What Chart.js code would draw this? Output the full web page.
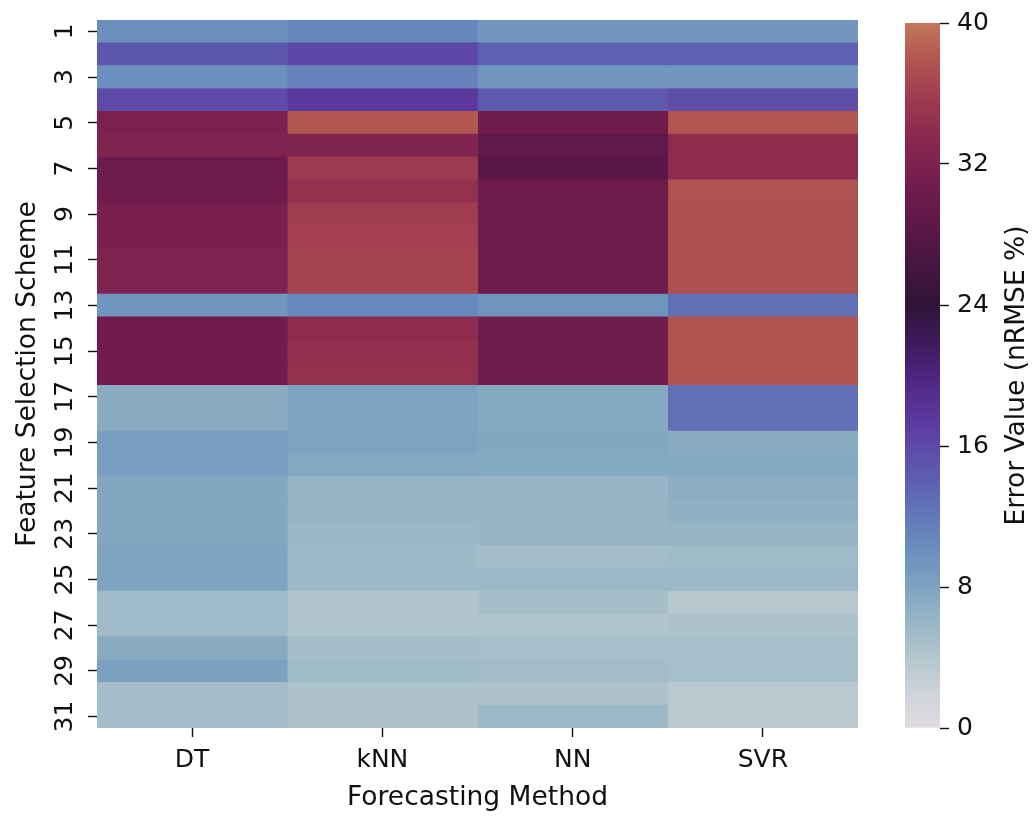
<!DOCTYPE html>
<html>
<head>
<meta charset="utf-8">
<script src="https://cdn.jsdelivr.net/npm/chart.js@4.4.1/dist/chart.umd.min.js"></script>
<style>
  html, body { margin: 0; padding: 0; background: #fff; }
  #wrap { position: relative; width: 1032px; height: 817px; }
  #heat { position: absolute; left: 0; top: 0; }
  #cbar { position: absolute; left: 870px; top: 0; }
</style>
</head>
<body>
<div id="wrap">
  <canvas id="heat" width="870" height="817"></canvas>
  <canvas id="cbar" width="162" height="817"></canvas>
</div>
<script>
// feature selection schemes (rows) and forecasting methods (columns)
const schemes = Array.from({ length: 31 }, (_, i) => String(i + 1));
const methods = ['DT', 'kNN', 'NN', 'SVR'];

// nRMSE % per scheme, one list per method
const dtErr = [10.0, 14.8, 10.1, 15.9, 31.8, 32.4, 30.3, 30.5, 31.5, 31.5, 32.1, 32.1, 9.4, 30.7, 30.7, 30.7,
  7.2, 7.2, 8.5, 8.5, 7.6, 7.6, 7.6, 7.9, 7.9, 5.5, 5.5, 7.2, 8.3, 5.0, 5.0];
const knnErr = [10.9, 16.1, 11.2, 17.6, 38.1, 32.5, 35.6, 34.6, 35.8, 36.1, 36.4, 36.4, 10.7, 34.0, 34.3, 34.5,
  8.0, 8.0, 8.0, 7.5, 6.3, 6.3, 6.0, 5.6, 5.6, 4.3, 4.3, 5.1, 5.4, 4.5, 4.5];
const nnErr = [9.4, 13.9, 9.4, 14.6, 30.5, 29.0, 28.4, 30.5, 30.5, 30.5, 30.5, 30.5, 9.6, 30.6, 30.6, 30.6,
  7.4, 7.4, 7.6, 7.4, 6.1, 6.1, 6.1, 5.3, 5.8, 5.0, 4.3, 4.9, 5.3, 4.5, 5.7];
const svrErr = [9.4, 13.9, 9.4, 15.6, 37.9, 34.0, 34.0, 37.7, 37.5, 37.5, 37.5, 37.5, 12.8, 37.8, 37.8, 37.8,
  12.8, 12.8, 7.2, 7.4, 6.9, 6.6, 6.2, 5.4, 5.7, 3.8, 4.5, 4.9, 4.9, 3.6, 3.6];

const errRange = [0, 40];
const cbarTicks = [0, 8, 16, 24, 32, 40];

// colour ramp sampled from the colour bar
const ramp = [
  [0, [226, 217, 226]], [2, [205, 211, 216]], [4, [180, 198, 205]], [6, [152, 182, 198]],
  [8, [126, 163, 192]], [10, [107, 144, 190]], [12, [98, 121, 184]], [14, [94, 96, 178]],
  [16, [94, 73, 168]], [18, [90, 53, 153]], [20, [78, 36, 128]], [22, [62, 26, 90]],
  [24, [47, 20, 54]], [26, [68, 21, 64]], [28, [87, 23, 69]], [30, [106, 26, 76]],
  [32, [125, 33, 80]], [34, [142, 44, 79]], [36, [162, 62, 80]], [38, [178, 86, 80]],
  [40, [194, 120, 90]]
];
function cmap(v) {
  if (v <= ramp[0][0]) return 'rgb(' + ramp[0][1].join(',') + ')';
  for (let i = 1; i < ramp.length; i++) {
    if (v <= ramp[i][0]) {
      const [a, ca] = ramp[i - 1], [b, cb] = ramp[i];
      const t = (v - a) / (b - a);
      const c = ca.map((x, k) => Math.round(x + (cb[k] - x) * t));
      return 'rgb(' + c.join(',') + ')';
    }
  }
  return 'rgb(' + ramp[ramp.length - 1][1].join(',') + ')';
}

const font = 'DejaVu Sans';
const ink = '#111';
const tickSize = 25;
const titleSize = 26.5;

const columns = [dtErr, knnErr, nnErr, svrErr];
const datasets = columns.map((vals, j) => ({
  label: methods[j],
  data: vals.map(() => [j, j + 1]),
  backgroundColor: vals.map(cmap),
  borderWidth: 0,
  grouped: false,
  barPercentage: 1,
  categoryPercentage: 1
}));

new Chart(document.getElementById('heat'), {
  type: 'bar',
  data: { labels: schemes, datasets: datasets },
  options: {
    indexAxis: 'y',
    responsive: false,
    animation: false,
    layout: { padding: { top: 20, right: 12, left: 0, bottom: 0 } },
    plugins: { legend: { display: false }, tooltip: { enabled: false } },
    scales: {
      x: {
        type: 'linear',
        min: 0,
        max: 4,
        afterBuildTicks: (scale) => { scale.ticks = methods.map((m, i) => ({ value: i + 0.5 })); },
        afterFit: (scale) => {
          scale.height = 89;
          scale.paddingLeft = 0;
          scale.paddingRight = 0;
        },
        ticks: {
          callback: (v, i) => methods[i],
          autoSkip: false,
          maxRotation: 0,
          padding: 8,
          color: ink,
          font: { family: font, size: tickSize }
        },
        grid: { drawOnChartArea: false, tickLength: 9, tickColor: ink, tickWidth: 1.4 },
        border: { display: false },
        title: {
          display: true,
          text: 'Forecasting Method',
          color: ink,
          font: { family: font, size: titleSize },
          padding: { top: 0, bottom: 3 }
        }
      },
      y: {
        type: 'category',
        afterFit: (scale) => {
          scale.width = 97;
          scale.paddingTop = 0;
          scale.paddingBottom = 0;
        },
        ticks: {
          callback: (v, i) => (i % 2 === 0 ? schemes[i] : ''),
          autoSkip: false,
          minRotation: 90,
          maxRotation: 90,
          crossAlign: 'center',
          padding: 7,
          color: ink,
          font: { family: font, size: tickSize }
        },
        grid: {
          offset: false,
          drawOnChartArea: false,
          tickLength: 9,
          tickWidth: 1.4,
          tickColor: (ctx) => (ctx.index % 2 === 0 ? ink : 'rgba(0,0,0,0)')
        },
        border: { display: false },
        title: {
          display: true,
          text: 'Feature Selection Scheme',
          color: ink,
          font: { family: font, size: titleSize },
          padding: { top: 12, bottom: 0 }
        }
      }
    }
  }
});

// colour bar: one floating bar over the full error range, filled with the ramp
const cbarTitle = {
  id: 'cbarTitle',
  afterDraw(chart) {
    const ctx = chart.ctx;
    const area = chart.chartArea;
    ctx.save();
    ctx.translate(147, (area.top + area.bottom) / 2);
    ctx.rotate(-Math.PI / 2);
    ctx.fillStyle = ink;
    ctx.font = titleSize + 'px "' + font + '"';
    ctx.textAlign = 'center';
    ctx.textBaseline = 'middle';
    ctx.fillText('Error Value (nRMSE %)', 0, 0);
    ctx.restore();
  }
};

new Chart(document.getElementById('cbar'), {
  type: 'bar',
  data: {
    labels: [''],
    datasets: [{
      data: [errRange],
      borderWidth: 0,
      barPercentage: 1,
      categoryPercentage: 1,
      backgroundColor: (ctx) => {
        const area = ctx.chart.chartArea;
        if (!area) return cmap(20);
        const g = ctx.chart.ctx.createLinearGradient(0, area.bottom, 0, area.top);
        ramp.forEach(([v, c]) => g.addColorStop((v - errRange[0]) / (errRange[1] - errRange[0]), 'rgb(' + c.join(',') + ')'));
        return g;
      }
    }]
  },
  options: {
    responsive: false,
    animation: false,
    layout: { padding: { top: 20, left: 35, right: 0, bottom: 89 } },
    plugins: { legend: { display: false }, tooltip: { enabled: false } },
    scales: {
      x: { display: false },
      y: {
        position: 'right',
        min: errRange[0],
        max: errRange[1],
        afterBuildTicks: (scale) => { scale.ticks = cbarTicks.map((v) => ({ value: v })); },
        afterFit: (scale) => { scale.width = 92; },
        ticks: { padding: 8, color: ink, font: { family: font, size: tickSize } },
        grid: { drawOnChartArea: false, tickLength: 9, tickWidth: 1.4, tickColor: ink },
        border: { display: false }
      }
    }
  },
  plugins: [cbarTitle]
});
</script>
</body>
</html>
